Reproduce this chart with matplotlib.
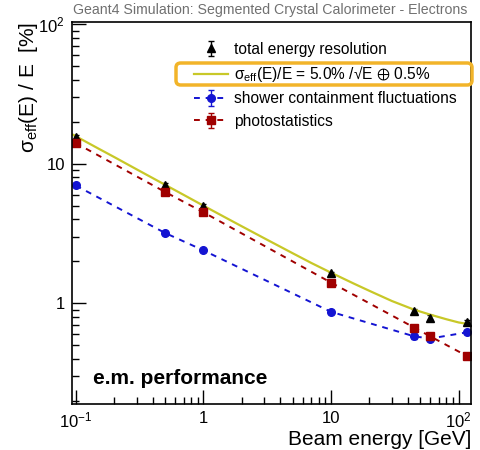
import matplotlib
matplotlib.use("Agg")
from matplotlib import pyplot as plt
from matplotlib.patches import FancyBboxPatch
from matplotlib.ticker import FixedLocator, FixedFormatter, NullFormatter, LogLocator

plt.rcParams['font.family'] = ['Liberation Sans', 'DejaVu Sans']
plt.rcParams['mathtext.fontset'] = 'custom'
plt.rcParams['mathtext.rm'] = 'Liberation Sans'
plt.rcParams['mathtext.it'] = 'Liberation Sans:italic'
plt.rcParams['mathtext.bf'] = 'Liberation Sans:bold'
plt.rcParams['mathtext.fallback'] = 'stixsans'

# beam energies [GeV]
energy = [0.1, 0.5, 1, 10, 45, 60, 116]
# resolutions [%]
total_res = [15.6, 7.0, 5.0, 1.64, 0.88, 0.79, 0.74]
total_err = [0.5, 0.25, 0.15, 0.05, 0.03, 0.03, 0.02]
shower_res = [7.0, 3.2, 2.4, 0.87, 0.58, 0.56, 0.62]
shower_err = [0.2, 0.1, 0.07, 0.03, 0.02, 0.02, 0.02]
photo_res = [14.1, 6.3, 4.5, 1.41, 0.67, 0.58, 0.42]
photo_err = [0.4, 0.2, 0.13, 0.04, 0.02, 0.02, 0.01]

# fit curve
fit_energy = [0.095, 0.15, 0.2, 0.3, 0.5, 0.7, 1, 1.5, 2, 3, 5, 7, 10, 15, 20, 30,
              45, 60, 80, 100, 120]
fit_res = [16.2, 12.9, 11.2, 9.14, 7.09, 6.0, 5.02, 4.11, 3.57, 2.93, 2.29, 1.95,
           1.66, 1.39, 1.23, 1.04, 0.90, 0.83, 0.77, 0.73, 0.71]

x_ticks = [0.1, 1, 10, 100]
x_ticklabels = ['$10^{-1}$', '1', '10', '$10^{2}$']
y_ticks = [1, 10, 100]
y_ticklabels = ['1', '10', '$10^{2}$']

legend_labels = ['total energy resolution',
                 'σ$_{\\rm eff}$(E)/E = 5.0% /√E $\\oplus$ 0.5%',
                 'shower containment fluctuations',
                 'photostatistics']

fig = plt.figure(figsize=(4.81, 4.5), dpi=100)
ax = fig.add_axes([72/481, 1 - 404/450, 399/481, 382/450])

blue = '#1414d2'
red = '#a00000'
yellow = '#c8c828'

h_tot = ax.errorbar(energy, total_res, yerr=total_err, fmt='^', color='black',
                    ms=6, capsize=2, elinewidth=1, lw=1)
h_fit, = ax.plot(fit_energy, fit_res, '-', color=yellow, lw=1.6)
h_sh = ax.errorbar(energy, shower_res, yerr=shower_err, fmt='o--', color=blue,
                   ms=5.5, capsize=2, elinewidth=1, lw=1.4, dashes=(3, 3))
h_ph = ax.errorbar(energy, photo_res, yerr=photo_err, fmt='s--', color=red,
                   ms=5.5, capsize=2, elinewidth=1, lw=1.4, dashes=(3, 3))

ax.set_xscale('log')
ax.set_yscale('log')
ax.set_xlim(0.0935, 125)
ax.set_ylim(0.19, 104)

ax.xaxis.set_major_locator(FixedLocator(x_ticks))
ax.xaxis.set_major_formatter(FixedFormatter(x_ticklabels))
ax.xaxis.set_minor_locator(LogLocator(base=10, subs=range(2, 10)))
ax.xaxis.set_minor_formatter(NullFormatter())
ax.yaxis.set_major_locator(FixedLocator(y_ticks))
ax.yaxis.set_major_formatter(FixedFormatter(y_ticklabels))
ax.yaxis.set_minor_locator(LogLocator(base=10, subs=range(2, 10)))
ax.yaxis.set_minor_formatter(NullFormatter())

ax.tick_params(which='both', direction='in', top=False, right=False, width=1)
ax.tick_params(which='major', length=10, labelsize=12, pad=5)
ax.tick_params(which='minor', length=5)
for s in ax.spines.values():
    s.set_linewidth(1.2)

ax.set_xlabel('Beam energy [GeV]', fontsize=15, loc='right')
ax.xaxis.set_label_coords(1.0, -0.068)
ax.set_ylabel('σ$_{\\rm eff}$(E) / E  [%]', fontsize=15, loc='top')
ax.yaxis.set_label_coords(-0.08, 1.0)

ax.text(0.053, 0.052, 'e.m. performance', transform=ax.transAxes,
        fontsize=15, fontweight='bold', va='baseline', ha='left')

fig.text(270/481, 1 - 10/450, 'Geant4 Simulation: Segmented Crystal Calorimeter - Electrons',
         fontsize=10.2, color='#707070', ha='center', va='center')

leg = ax.legend([h_tot, h_fit, h_sh, h_ph], legend_labels,
                loc='upper left', bbox_to_anchor=(0.306, 0.948), frameon=False,
                fontsize=11.2, handlelength=2.2, handletextpad=0.35,
                labelspacing=0.47, borderpad=0, borderaxespad=0)

box = FancyBboxPatch((176/481, 1 - 85/450), 296/481, 22/450,
                     boxstyle='round,pad=0,rounding_size=0.01',
                     transform=fig.transFigure, fill=False,
                     edgecolor='#f2b429', lw=2.5, clip_on=False)
fig.patches.append(box)

fig.savefig('out.png', dpi=100)
